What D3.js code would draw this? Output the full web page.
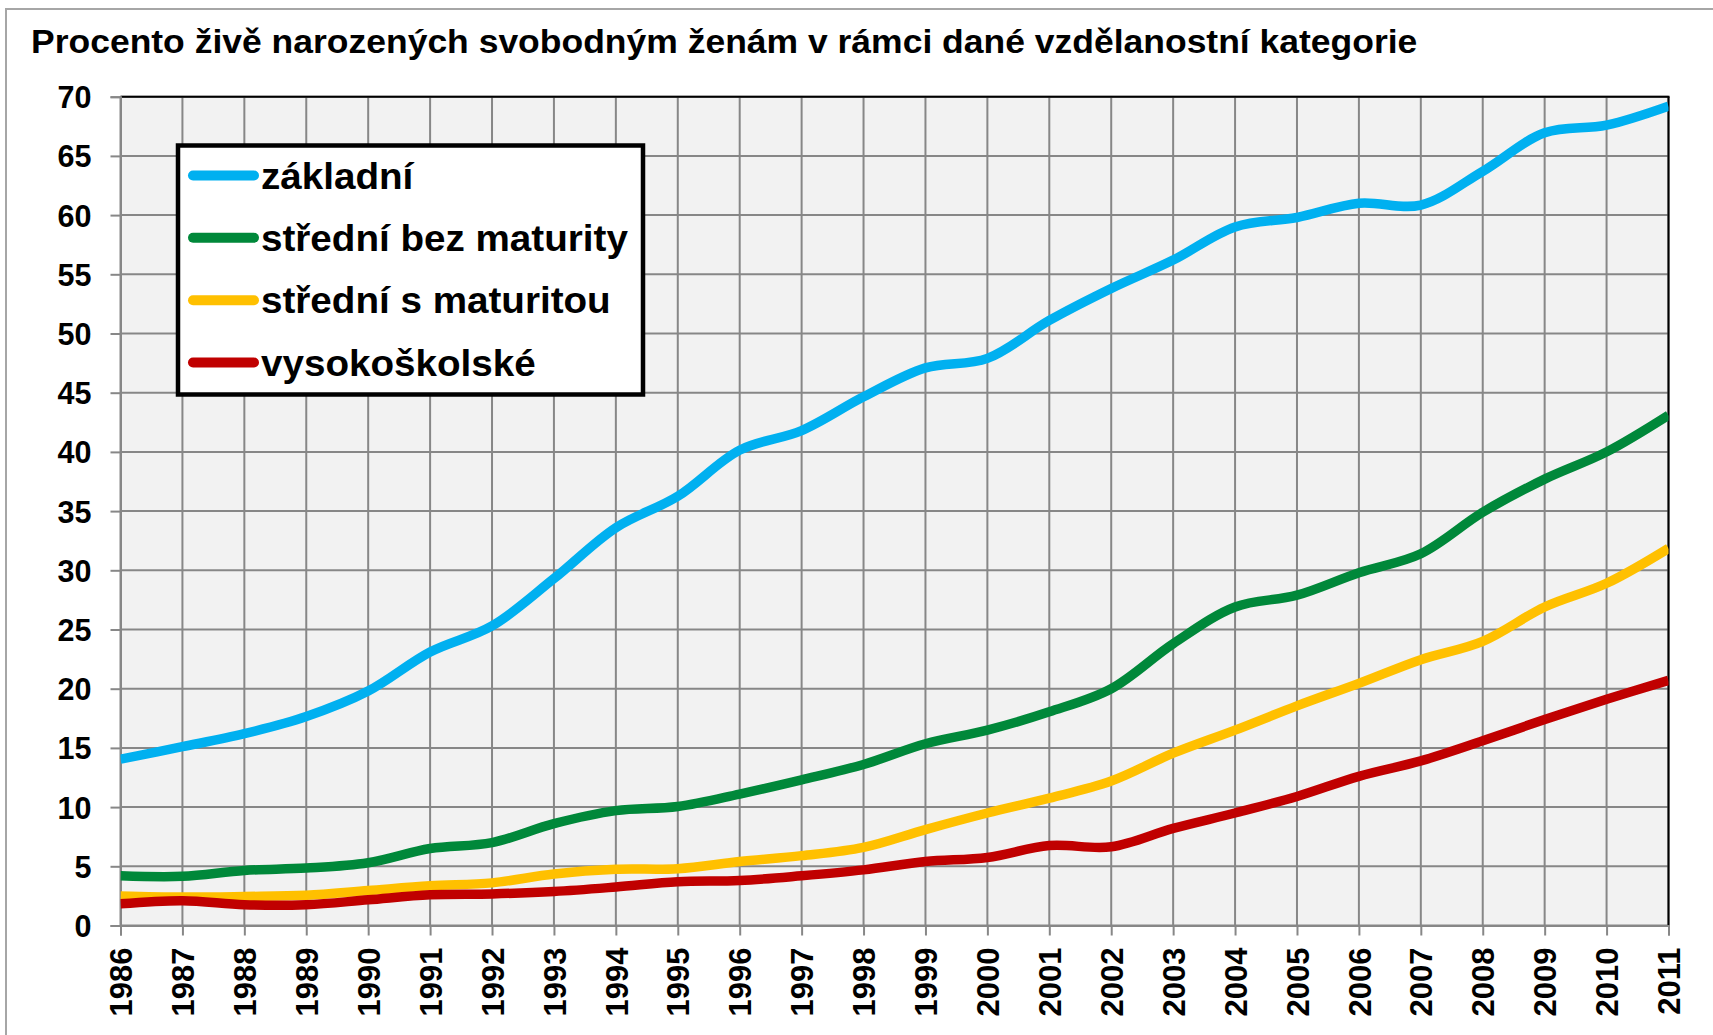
<!DOCTYPE html>
<html>
<head>
<meta charset="utf-8">
<script src="https://cdn.jsdelivr.net/npm/d3@7"></script>
<style>
  html, body { margin: 0; padding: 0; background: #ffffff; }
  svg { display: block; }
  text { font-family: "Liberation Sans", Arial, sans-serif; font-weight: bold; fill: #000; }
</style>
</head>
<body>
<svg id="chart" width="1713" height="1035"></svg>
<script>
// ---------- data ----------
const title = "Procento živě narozených svobodným ženám v rámci dané vzdělanostní kategorie";
const years = [1986, 1987, 1988, 1989, 1990, 1991, 1992, 1993, 1994, 1995, 1996, 1997, 1998,
               1999, 2000, 2001, 2002, 2003, 2004, 2005, 2006, 2007, 2008, 2009, 2010, 2011];
const yTicks = [0, 5, 10, 15, 20, 25, 30, 35, 40, 45, 50, 55, 60, 65, 70];
const seriesNames = ["základní", "střední bez maturity", "střední s maturitou", "vysokoškolské"];
const seriesColors = ["#00B0F0", "#00883A", "#FFC000", "#C00000"];

const zakladni = [14.05, 15.1, 16.2, 17.65, 19.8, 23.1, 25.3, 29.3, 33.6, 36.25, 40.15, 41.8, 44.65,
                  47.1, 47.9, 51.1, 53.8, 56.2, 59.0, 59.8, 61.0, 60.85, 63.7, 66.95, 67.6, 69.2];
const stredniBezMaturity = [4.2, 4.15, 4.65, 4.85, 5.3, 6.5, 7.0, 8.6, 9.7, 10.05, 11.1, 12.3, 13.6,
                  15.35, 16.5, 18.05, 20.0, 23.8, 26.9, 27.9, 29.8, 31.4, 34.9, 37.7, 40.0, 43.1];
const stredniSMaturitou = [2.5, 2.4, 2.45, 2.55, 2.95, 3.35, 3.6, 4.35, 4.75, 4.8, 5.4, 5.9, 6.6,
                  8.1, 9.5, 10.75, 12.2, 14.55, 16.5, 18.55, 20.45, 22.45, 24.0, 26.9, 28.9, 31.85];
const vysokoskolske = [1.83, 2.1, 1.75, 1.75, 2.17, 2.6, 2.67, 2.87, 3.25, 3.7, 3.8, 4.2, 4.7,
                  5.4, 5.75, 6.75, 6.65, 8.2, 9.5, 10.9, 12.6, 13.9, 15.6, 17.4, 19.1, 20.7];

const seriesValues = [zakladni, stredniBezMaturity, stredniSMaturitou, vysokoskolske];

// ---------- layout ----------
const svg = d3.select("#chart");
const plot = { left: 120.5, right: 1668.5, top: 96.7, bottom: 925.5 };

// outer frame
svg.append("rect")
  .attr("x", 6).attr("y", 9)
  .attr("width", 1730).attr("height", 1050)
  .attr("fill", "#ffffff")
  .attr("stroke", "#A6A6A6").attr("stroke-width", 2);

// title (stretched horizontally to match reference width)
const titleText = svg.append("text")
  .attr("x", 0).attr("y", 0)
  .attr("font-size", 33.5)
  .text(title);
const tw = titleText.node().getComputedTextLength();
titleText.attr("transform", `translate(31,53.3) scale(${1387 / tw},1)`);

const x = d3.scaleLinear().domain([years[0], years[years.length - 1]]).range([plot.left, plot.right]);
const y = d3.scaleLinear().domain([0, 70]).range([plot.bottom, plot.top]);

// plot background
svg.append("rect")
  .attr("x", plot.left).attr("y", plot.top)
  .attr("width", plot.right - plot.left).attr("height", plot.bottom - plot.top)
  .attr("fill", "#F2F2F2");

const gridColor = "#878787";

// horizontal grid
svg.append("g").selectAll("line").data(yTicks).join("line")
  .attr("x1", plot.left).attr("x2", plot.right)
  .attr("y1", d => y(d)).attr("y2", d => y(d))
  .attr("stroke", gridColor).attr("stroke-width", 2);

// vertical grid
svg.append("g").selectAll("line").data(years).join("line")
  .attr("x1", d => x(d)).attr("x2", d => x(d))
  .attr("y1", plot.top).attr("y2", plot.bottom)
  .attr("stroke", gridColor).attr("stroke-width", 2);

// top and right black borders
svg.append("line").attr("x1", plot.left).attr("x2", plot.right + 1)
  .attr("y1", plot.top).attr("y2", plot.top).attr("stroke", "#000").attr("stroke-width", 2);
svg.append("line").attr("x1", plot.right).attr("x2", plot.right)
  .attr("y1", plot.top).attr("y2", plot.bottom).attr("stroke", "#000").attr("stroke-width", 2);

// y axis
const yAxis = svg.append("g")
  .attr("transform", `translate(${plot.left},0)`)
  .call(d3.axisLeft(y).tickValues(yTicks).tickFormat(d3.format("d")).tickSize(10).tickPadding(19));
yAxis.select(".domain").attr("stroke", gridColor).attr("stroke-width", 2);
yAxis.selectAll(".tick line").attr("stroke", gridColor).attr("stroke-width", 2);
yAxis.selectAll(".tick text")
  .attr("font-size", 30.5).attr("font-family", "Liberation Sans, Arial, sans-serif")
  .attr("font-weight", "bold").attr("fill", "#000").attr("dy", "0.36em");

// x axis
const xAxis = svg.append("g")
  .attr("transform", `translate(0,${plot.bottom})`)
  .call(d3.axisBottom(x).tickValues(years).tickFormat(d3.format("d")).tickSize(10).tickPadding(12));
xAxis.select(".domain").attr("stroke", gridColor).attr("stroke-width", 2);
xAxis.selectAll(".tick line").attr("stroke", gridColor).attr("stroke-width", 2);
xAxis.selectAll(".tick text")
  .attr("font-size", 31).attr("font-family", "Liberation Sans, Arial, sans-serif")
  .attr("font-weight", "bold").attr("fill", "#000")
  .attr("transform", "rotate(-90)")
  .attr("text-anchor", "end")
  .attr("x", -22).attr("y", 0).attr("dy", "0.36em");

// lines
const line = d3.line()
  .x((d, i) => x(years[i]))
  .y(d => y(d))
  .curve(d3.curveCatmullRom.alpha(0.5));

svg.append("clipPath").attr("id", "plotclip").append("rect")
  .attr("x", plot.left).attr("y", plot.top - 10)
  .attr("width", plot.right - plot.left).attr("height", plot.bottom - plot.top + 20);

svg.append("g").attr("clip-path", "url(#plotclip)")
  .selectAll("path").data(seriesValues).join("path")
  .attr("d", d => line(d))
  .attr("fill", "none")
  .attr("stroke", (d, i) => seriesColors[i])
  .attr("stroke-width", 9.5)
  .attr("stroke-linejoin", "round");

// legend
const legend = svg.append("g");
legend.append("rect")
  .attr("x", 178).attr("y", 145.5)
  .attr("width", 465).attr("height", 249)
  .attr("fill", "#ffffff")
  .attr("stroke", "#000").attr("stroke-width", 4.5);

const rowY = d3.scaleLinear().domain([0, 3]).range([175.5, 362.5]);
const items = legend.selectAll("g.item").data(seriesNames).join("g").attr("class", "item");
items.append("line")
  .attr("x1", 193).attr("x2", 254)
  .attr("y1", (d, i) => rowY(i)).attr("y2", (d, i) => rowY(i))
  .attr("stroke", (d, i) => seriesColors[i])
  .attr("stroke-width", 10)
  .attr("stroke-linecap", "round");
const legendTexts = items.append("text")
  .attr("x", 0).attr("y", 0)
  .attr("font-size", 36.5)
  .text(d => d);
const refLen = legendTexts.filter((d, i) => i === 1).node().getComputedTextLength();
const lsx = 367 / refLen;
legendTexts.attr("transform", (d, i) => `translate(261,${rowY(i) + 13}) scale(${lsx},1)`);
</script>
</body>
</html>
